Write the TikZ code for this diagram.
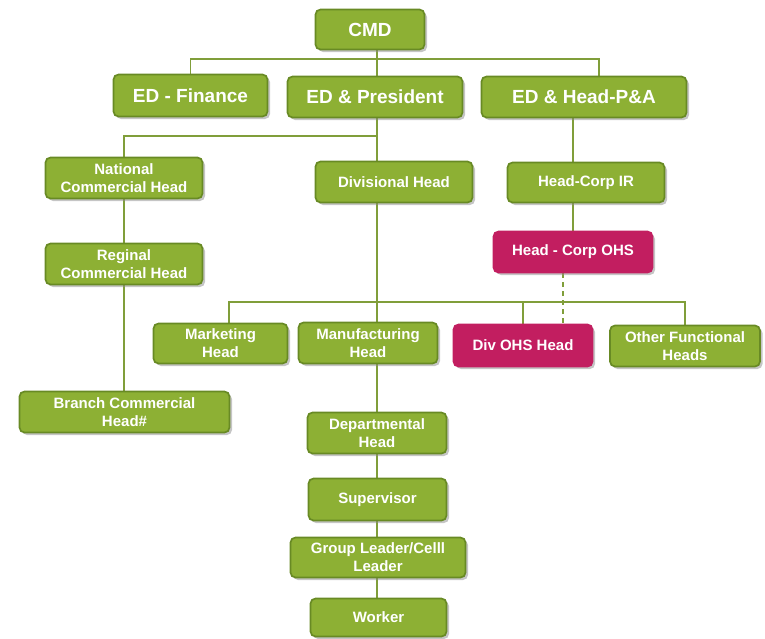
\documentclass[tikz,border=0pt]{standalone}
\usepackage{fontspec}
\setmainfont{Liberation Sans}
\usepackage{tikz}
\usetikzlibrary{
  shadows,
  backgrounds,
  calc
}
\usepackage{xcolor}

\definecolor{leaf}{RGB}{141,176,52}
\definecolor{leafedge}{RGB}{104,138,36}
\definecolor{wireclr}{RGB}{128,158,58}
\definecolor{ohsred}{RGB}{194,30,96}

\tikzset{
  post/.style={rounded corners=5pt, fill=leaf, draw=leafedge, line width=1.7pt,
    text=white, font=\bfseries\fontsize{15}{18}\selectfont, align=center,
    inner sep=0pt,
    drop shadow={shadow xshift=2.5pt, shadow yshift=-2.5pt, fill=black!45, opacity=0.5}},
  toppost/.style={post, font=\bfseries\fontsize{19}{22}\selectfont},
  ohspost/.style={post, fill=ohsred, draw=ohsred},
  wire/.style={draw=wireclr, line width=1.3pt}
}

\begin{document}
\begin{tikzpicture}[x=1pt, y=-1pt]

  \useasboundingbox (0,0) rectangle (765,638);

  % Top level
  \node[toppost, minimum width=109pt, minimum height=40pt] (cmd) at (370,29.5) {CMD};
  \node[toppost, minimum width=154pt, minimum height=42pt] (edf) at (190.5,95.5) {ED - Finance};
  \node[toppost, minimum width=175pt, minimum height=41pt] (edp) at (375,97) {ED \& President};
  \node[toppost, minimum width=205pt, minimum height=41pt] (edh) at (584,97) {ED \& Head-P\&A};

  % Second level
  \node[post, minimum width=157pt, minimum height=41pt] (nch) at (124,178) {National\\Commercial Head};
  \node[post, minimum width=157pt, minimum height=41pt] (dvh) at (394,182) {Divisional Head};
  \node[post, minimum width=157pt, minimum height=40pt] (cir) at (586,182.5) {Head-Corp IR};

  % Commercial line
  \node[post, minimum width=157pt, minimum height=41pt] (rch) at (124,264) {Reginal\\Commercial Head};
  \node[post, minimum width=210pt, minimum height=41pt] (bch) at (124.5,412) {Branch Commercial\\Head\#};

  % OHS
  \node[ohspost, minimum width=159pt, minimum height=41pt] (ohs) at (573,252) {Head - Corp OHS};

  % Functional heads
  \node[post, minimum width=134pt, minimum height=40pt] (mkt) at (220.5,343.5) {Marketing\\Head};
  \node[post, minimum width=139pt, minimum height=41pt] (mfg) at (368,343) {Manufacturing\\Head};
  \node[ohspost, minimum width=139pt, minimum height=42pt] (doh) at (523,345.5) {Div OHS Head};
  \node[post, minimum width=150pt, minimum height=41pt] (ofh) at (685,346) {Other Functional\\Heads};

  % Shop floor
  \node[post, minimum width=139pt, minimum height=41pt] (dpt) at (377,433) {Departmental\\Head};
  \node[post, minimum width=138pt, minimum height=42pt] (sup) at (377.5,499.5) {Supervisor};
  \node[post, minimum width=175pt, minimum height=40pt] (grp) at (378,557.5) {Group Leader/Celll\\Leader};
  \node[post, minimum width=136pt, minimum height=38pt] (wrk) at (378.5,617.5) {Worker};

  % Connectors
  \begin{scope}[on background layer]
    \coordinate (b1) at (377,59);
    \coordinate (b2) at (377,136);
    \coordinate (b3) at (377,302);
    \draw[wire] (edf.north) |- (b1) -| ([xshift=15pt]edh.north);
    \draw[wire] (cmd.south -| b1) -- (wrk.north -| b1);
    \draw[wire] (nch.north) |- (b2);
    \draw[wire] (nch.south) -- (rch.north);
    \draw[wire] (rch.south) -- (bch.north -| rch.south);
    \draw[wire] ([xshift=-11pt]edh.south) -- (ohs.north);
    \draw[wire] ([xshift=8.5pt]mkt.north) |- (b3) -| (ofh.north);
    \draw[wire] (doh.north) -- (doh.north |- b3);
    \coordinate (dash) at ($(ohs.south)+(-10,0)$);
    \draw[wire, dash pattern=on 5pt off 4pt] (dash) -- (dash |- doh.north);
  \end{scope}

\end{tikzpicture}
\end{document}
